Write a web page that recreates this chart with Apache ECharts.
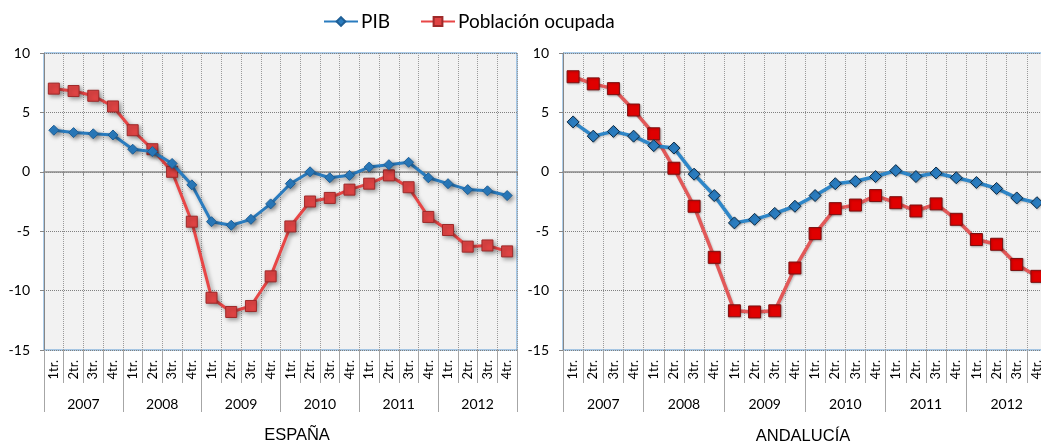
<!DOCTYPE html>
<html>
<head>
<meta charset="utf-8">
<script src="https://cdn.jsdelivr.net/npm/echarts@6/dist/echarts.min.js"></script>
<style>html,body{margin:0;padding:0;background:#fff}#c{width:1041px;height:442px}</style>
</head>
<body>
<div id="c"></div>
<script>
const years = ['2007','2008','2009','2010','2011','2012'];
const quarterLabels = ['1tr.','2tr.','3tr.','4tr.'];
const yTicks = [-15, -10, -5, 0, 5, 10];
const panelTitles = ['ESPAÑA', 'ANDALUCÍA'];
const seriesNames = ['PIB', 'Población ocupada'];

const espPIB = [3.5,3.3,3.2,3.1,1.9,1.7,0.7,-1.1,-4.2,-4.5,-4.0,-2.7,-1.0,0.0,-0.5,-0.3,0.4,0.6,0.8,-0.5,-1.0,-1.5,-1.6,-2.0];
const espEmp = [7.0,6.8,6.4,5.5,3.5,1.9,0.0,-4.2,-10.6,-11.8,-11.3,-8.8,-4.6,-2.5,-2.2,-1.5,-1.0,-0.3,-1.3,-3.8,-4.9,-6.3,-6.2,-6.7];
const andPIB = [4.2,3.0,3.4,3.0,2.2,2.0,-0.2,-2.0,-4.3,-4.0,-3.5,-2.9,-2.0,-1.0,-0.8,-0.4,0.1,-0.4,-0.1,-0.5,-0.9,-1.4,-2.2,-2.6];
const andEmp = [8.0,7.4,7.0,5.2,3.2,0.3,-2.9,-7.2,-11.7,-11.8,-11.7,-8.1,-5.2,-3.1,-2.8,-2.0,-2.6,-3.3,-2.7,-4.0,-5.7,-6.1,-7.8,-8.8];

const categories = [];
years.forEach(y => quarterLabels.forEach(q => categories.push(y + '|' + q)));

const FONT = 'Lato';
const grids = [
  {left: 44, top: 53, width: 473, height: 297},
  {left: 563, top: 53, width: 484, height: 297}
];

const xAxes = [], yAxes = [];
grids.forEach((g, gi) => {
  xAxes.push({
    gridIndex: gi, type: 'category', data: categories, position: 'bottom', boundaryGap: true,
    axisLine: {show: false, onZero: false},
    axisTick: {show: true, interval: 0, length: 33, lineStyle: {color: '#a6a6a6'}},
    axisLabel: {interval: 0, rotate: 90, margin: 10, fontSize: 13, color: '#000', fontFamily: FONT,
      formatter: v => v.split('|')[1]},
    splitLine: {show: true, interval: 0, lineStyle: {type: 'dotted', color: '#9a9a9a', width: 1}}
  });
  xAxes.push({
    gridIndex: gi, type: 'category', data: years, position: 'bottom', boundaryGap: true,
    axisLine: {show: false, onZero: false},
    axisTick: {show: true, interval: 0, length: 62, lineStyle: {color: '#a6a6a6'}},
    axisLabel: {interval: 0, margin: 47, fontSize: 14, color: '#000', fontFamily: FONT},
    splitLine: {show: false}
  });
  xAxes.push({
    gridIndex: gi, type: 'category', data: categories, position: 'bottom', boundaryGap: true,
    axisLine: {show: true, onZero: true, lineStyle: {color: '#8c8c8c', width: 1.5}},
    axisTick: {show: true, interval: 0, length: 4, lineStyle: {color: '#8c8c8c'}},
    axisLabel: {show: false},
    splitLine: {show: false}
  });
  yAxes.push({
    gridIndex: gi, type: 'value', min: yTicks[0], max: yTicks[yTicks.length - 1], interval: 5,
    axisLine: {show: true, lineStyle: {color: '#868686'}},
    axisTick: {show: true, length: 4, lineStyle: {color: '#868686'}},
    axisLabel: {fontSize: 14, color: '#000', fontFamily: FONT, margin: 14},
    splitLine: {show: true, lineStyle: {type: 'dotted', color: '#808080'}}
  });
});

const shadowL = {shadowColor: 'rgba(0,0,0,0.35)', shadowBlur: 4, shadowOffsetX: 2, shadowOffsetY: 2};
const shadowR = {shadowColor: 'rgba(0,0,0,0.2)', shadowBlur: 2, shadowOffsetX: 1, shadowOffsetY: 1};

const series = [
  {name: seriesNames[0], type: 'line', xAxisIndex: 0, yAxisIndex: 0, data: espPIB,
   symbol: 'diamond', symbolSize: 10, z: 4,
   lineStyle: Object.assign({color: '#2a7cbf', width: 3}, shadowL),
   itemStyle: Object.assign({color: '#2a7cbf', borderColor: '#1f5f96', borderWidth: 1}, shadowL)},
  {name: seriesNames[1], type: 'line', xAxisIndex: 0, yAxisIndex: 0, data: espEmp,
   symbol: 'rect', symbolSize: 11, z: 3,
   lineStyle: Object.assign({color: '#e84646', width: 3}, shadowL),
   itemStyle: Object.assign({color: '#e04444', borderColor: '#9e2a2a', borderWidth: 1}, shadowL)},
  {name: seriesNames[0], type: 'line', xAxisIndex: 3, yAxisIndex: 1, data: andPIB,
   symbol: 'diamond', symbolSize: 12, z: 4,
   lineStyle: Object.assign({color: '#2e86c8', width: 3.5}, shadowR),
   itemStyle: Object.assign({color: '#2a7cbf', borderColor: '#0d2a44', borderWidth: 1}, shadowR)},
  {name: seriesNames[1], type: 'line', xAxisIndex: 3, yAxisIndex: 1, data: andEmp,
   symbol: 'rect', symbolSize: 12, z: 3,
   lineStyle: Object.assign({color: '#e25858', width: 3.5}, shadowR),
   itemStyle: Object.assign({color: '#e00000', borderColor: '#7a1010', borderWidth: 1}, shadowR)}
];

const chart = echarts.init(document.getElementById('c'));
chart.setOption({
  animation: false,
  backgroundColor: '#fff',
  legend: {
    data: seriesNames, left: 318, top: 7, itemWidth: 34, itemHeight: 11, itemGap: 30,
    textStyle: {fontSize: 19, color: '#000', fontFamily: FONT, padding: [0, 0, 0, -2]}
  },
  grid: grids.map(g => Object.assign({show: true, outerBoundsMode: 'none', containLabel: false,
    backgroundColor: '#f2f2f2', borderColor: '#5b9bd5', borderWidth: 1}, g)),
  xAxis: xAxes,
  yAxis: yAxes,
  series: series,
  graphic: [
    {type: 'text', x: 297, y: 435, style: {text: panelTitles[0], fill: '#000', font: '16.5px "Liberation Sans"', textAlign: 'center', textVerticalAlign: 'middle'}},
    {type: 'text', x: 803, y: 436, style: {text: panelTitles[1], fill: '#000', font: '16.5px "Liberation Sans"', textAlign: 'center', textVerticalAlign: 'middle'}}
  ]
});
</script>
</body>
</html>
